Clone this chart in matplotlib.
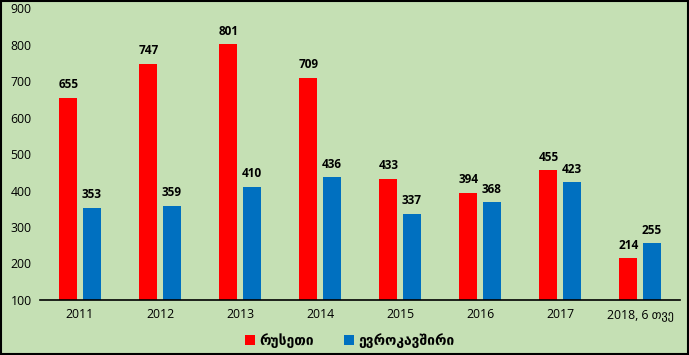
import numpy as np
import matplotlib.pyplot as plt
from matplotlib.patches import Rectangle

plt.rcParams['font.family'] = ['Open Sans', 'DejaVu Sans']

# data
years = ["2011", "2012", "2013", "2014", "2015", "2016", "2017", "2018, 6 თვე"]
russia = [655, 747, 801, 709, 433, 394, 455, 214]
eu = [353, 359, 410, 436, 337, 368, 423, 255]
names = ["რუსეთი", "ევროკავშირი"]

bg = '#C5E0B4'
fig = plt.figure(figsize=(6.89, 3.55), dpi=100, facecolor=bg)
ax = fig.add_axes([0.058, 0.155, 0.929, 0.822])
ax.set_facecolor(bg)

x = np.arange(len(years))
w = 0.225
off = 0.145
b1 = ax.bar(x - off, np.array(russia) - 100, w, bottom=100, color='#FF0000', label=names[0])
b2 = ax.bar(x + off, np.array(eu) - 100, w, bottom=100, color='#0070C0', label=names[1])

for xs, vals in ((x - off, russia), (x + off, eu)):
    for xi, v in zip(xs, vals):
        ax.text(xi, v + 18, str(v), ha='center', va='bottom', fontsize=8.5, fontweight='bold')

ax.set_xlim(-0.5, len(years) - 0.5)
ax.set_ylim(100, 900)
ax.set_yticks(range(100, 901, 100))
ax.set_xticks(x)
ax.set_xticklabels(years)
ax.tick_params(axis='both', length=0, labelsize=8.8)
ax.tick_params(axis='x', pad=6)
ax.tick_params(axis='y', pad=6)
for s in ('top', 'right', 'left'):
    ax.spines[s].set_visible(False)
ax.spines['bottom'].set_color('black')
ax.spines['bottom'].set_linewidth(1.2)

fig.legend(handles=[b1, b2], loc='center', bbox_to_anchor=(0.508, 0.04), ncol=2,
           frameon=False, prop={'size': 10, 'weight': 'bold'}, handlelength=0.7,
           handleheight=0.7, handletextpad=0.3, columnspacing=2.2)

fig.patches.append(Rectangle((0.001, 0.002), 0.997, 0.995, transform=fig.transFigure,
                             fill=False, edgecolor='black', linewidth=1.5))

fig.savefig('out.png', dpi=100, facecolor=bg)
